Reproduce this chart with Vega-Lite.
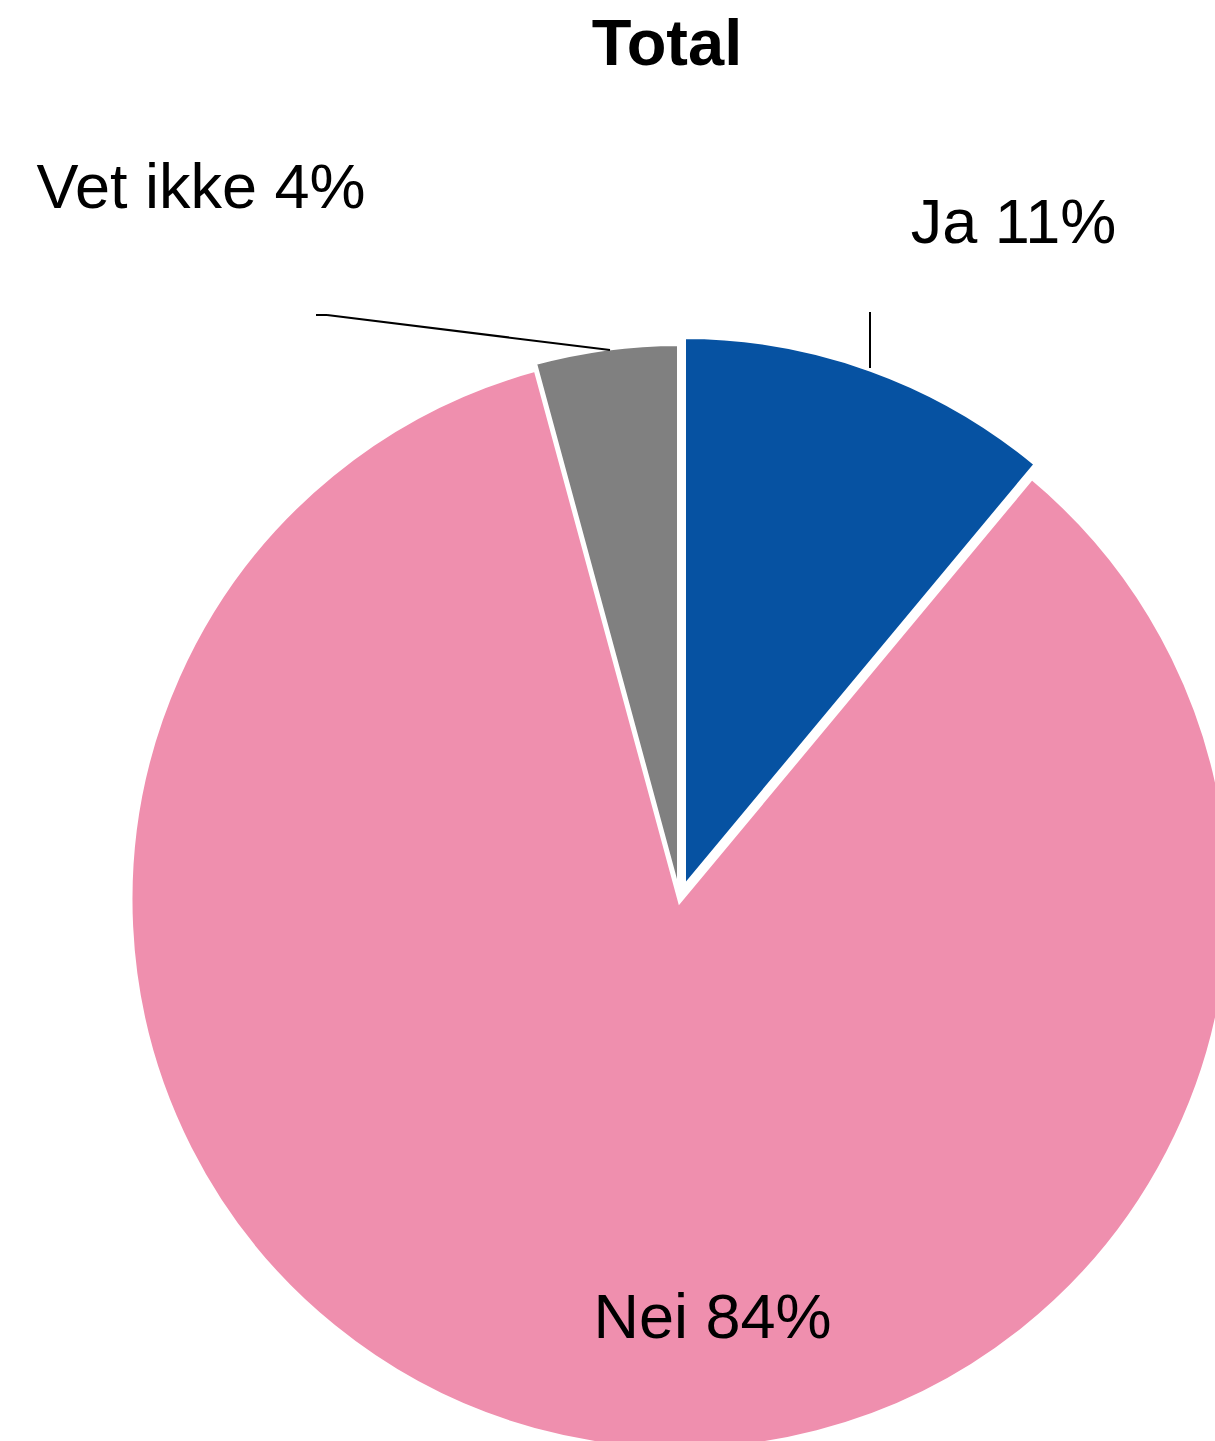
{
  "$schema": "https://vega.github.io/schema/vega-lite/v6.json",
  "width": 1360,
  "height": 1640,
  "autosize": {"type": "none"},
  "padding": {"top": 80, "left": 0, "right": 0, "bottom": 0},
  "background": "white",
  "title": {
    "text": "Total",
    "font": "Liberation Sans",
    "fontSize": 65,
    "fontWeight": "bold",
    "color": "black",
    "anchor": "middle",
    "baseline": "alphabetic",
    "offset": 12,
    "dy": 62,
    "dx": -13
  },
  "config": {"view": {"stroke": null}},
  "datasets": {
    "slices": [
      {"category": "Ja", "value": 11.0, "order": 1},
      {"category": "Nei", "value": 84.4, "order": 2},
      {"category": "Vet ikke", "value": 4.2, "order": 3}
    ],
    "labels": [
      {"label": "Ja 11%", "lx": 333.5, "ly": 657},
      {"label": "Nei 84%", "lx": 32.5, "ly": -438},
      {"label": "Vet ikke 4%", "lx": -479, "ly": 692}
    ],
    "leaders": [
      {"x1": -364, "y1": 585, "x2": -353, "y2": 585},
      {"x1": -353, "y1": 585, "x2": -70, "y2": 550},
      {"x1": 190, "y1": 588, "x2": 190, "y2": 532}
    ]
  },
  "layer": [
    {
      "data": {"name": "slices"},
      "transform": [
        {"stack": "value", "groupby": [], "sort": [{"field": "order"}], "as": ["v0", "v1"]},
        {"filter": "datum.category === 'Nei'"}
      ],
      "mark": {"type": "arc", "radius": 550, "stroke": "white", "strokeWidth": 5},
      "encoding": {
        "theta": {"field": "v0", "type": "quantitative", "scale": {"domain": [0, 99.6]}},
        "theta2": {"field": "v1"},
        "color": {
          "field": "category",
          "type": "nominal",
          "scale": {"domain": ["Ja", "Nei", "Vet ikke"], "range": ["#0652a2", "#ef8fae", "#808080"]},
          "legend": null
        }
      }
    },
    {
      "data": {"name": "slices"},
      "transform": [
        {"stack": "value", "groupby": [], "sort": [{"field": "order"}], "as": ["v0", "v1"]},
        {"filter": "datum.category === 'Vet ikke'"}
      ],
      "mark": {"type": "arc", "radius": 550, "stroke": "white", "strokeWidth": 4, "xOffset": -1, "yOffset": -6},
      "encoding": {
        "theta": {"field": "v0", "type": "quantitative", "scale": {"domain": [0, 99.6]}},
        "theta2": {"field": "v1"},
        "color": {"field": "category", "type": "nominal", "legend": null}
      }
    },
    {
      "data": {"name": "slices"},
      "transform": [
        {"stack": "value", "groupby": [], "sort": [{"field": "order"}], "as": ["v0", "v1"]},
        {"filter": "datum.category === 'Ja'"}
      ],
      "mark": {"type": "arc", "radius": 550, "stroke": "white", "strokeWidth": 4, "xOffset": 4, "yOffset": -13},
      "encoding": {
        "theta": {"field": "v0", "type": "quantitative", "scale": {"domain": [0, 99.6]}},
        "theta2": {"field": "v1"},
        "color": {"field": "category", "type": "nominal", "legend": null}
      }
    },
    {
      "data": {"name": "leaders"},
      "mark": {"type": "rule", "color": "black", "strokeWidth": 2},
      "encoding": {
        "x": {"field": "x1", "type": "quantitative", "scale": {"domain": [-680, 680], "nice": false, "zero": false}, "axis": null},
        "y": {"field": "y1", "type": "quantitative", "scale": {"domain": [-820, 820], "nice": false, "zero": false}, "axis": null},
        "x2": {"field": "x2"},
        "y2": {"field": "y2"}
      }
    },
    {
      "data": {"name": "labels"},
      "mark": {"type": "text", "font": "Liberation Sans", "fontSize": 63, "color": "black", "align": "center", "baseline": "alphabetic"},
      "encoding": {
        "x": {"field": "lx", "type": "quantitative", "axis": null},
        "y": {"field": "ly", "type": "quantitative", "axis": null},
        "text": {"field": "label"}
      }
    }
  ]
}
